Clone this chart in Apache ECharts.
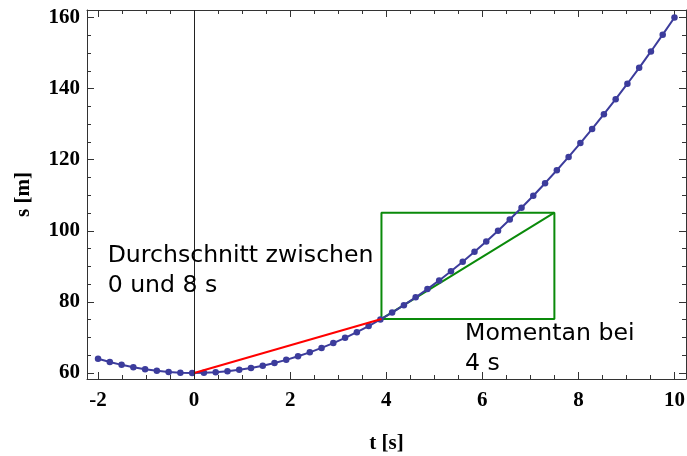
<!DOCTYPE html>
<html>
<head>
<meta charset="utf-8">
<script src="https://cdn.jsdelivr.net/npm/echarts@6/dist/echarts.min.js"></script>
<style>html,body{margin:0;padding:0;background:#fff}#c{width:687px;height:456px}</style>
</head>
<body>
<div id="c"></div>
<script>
// time samples (s)
const tValues = [-2.00,-1.755,-1.510,-1.265,-1.020,-0.776,-0.531,-0.286,-0.041,0.204,
  0.449,0.694,0.939,1.184,1.429,1.673,1.918,2.163,2.408,2.653,
  2.898,3.143,3.388,3.633,3.878,4.122,4.367,4.612,4.857,5.102,
  5.347,5.592,5.837,6.082,6.327,6.571,6.816,7.061,7.306,7.551,
  7.796,8.041,8.286,8.531,8.776,9.020,9.265,9.510,9.755,10.00];
// position (m)
const sValues = [64.00,63.08,62.28,61.60,61.04,60.60,60.28,60.08,60.00,60.04,
  60.20,60.48,60.88,61.40,62.04,62.80,63.68,64.68,65.80,67.04,
  68.40,69.88,71.48,73.20,75.04,76.99,79.07,81.27,83.59,86.03,
  88.59,91.27,94.07,96.99,100.03,103.18,106.46,109.86,113.38,117.02,
  120.78,124.66,128.66,132.78,137.02,141.36,145.84,150.44,155.16,160.00];
// average-velocity secant (red)
const secantT = [0, 3.9];
const secantS = [60, 75.2];
// tangent box (green)
const boxT = [3.9, 7.5];
const boxS = [75.2, 105.1];
// tick labels
const xTicks = [-2, 0, 2, 4, 6, 8, 10];
const yTicks = [60, 80, 100, 120, 140, 160];
const xMinorTicks = [];
for (let v = -2; v <= 10.001; v += 0.5) xMinorTicks.push(+v.toFixed(2));
const yMinorTicks = [];
for (let v = 60; v <= 160; v += 5) yMinorTicks.push(v);
// annotations
const notes = [
  {t: -1.8, s: 97.2, text: 'Durchschnitt zwischen\n0 und 8 s'},
  {t: 5.64, s: 75.3, text: 'Momentan bei\n4 s'}
];

const xMin = -2.23, xMax = 10.24, yMin = 58.3, yMax = 162.1;
const frame = '#333';
const lblStyle = {fontFamily: 'Liberation Serif', fontWeight: 'bold', fontSize: 21, color: '#000'};

function xAx(pos, vals, len, labels, line) {
  return {
    type: 'value', min: xMin, max: xMax, position: pos,
    axisLine: {show: line, onZero: false, lineStyle: {color: frame, width: 1}},
    axisTick: {show: true, inside: true, length: len, customValues: vals, lineStyle: {color: frame, width: 1}},
    axisLabel: labels ? Object.assign({show: true, customValues: vals, margin: 11}, lblStyle) : {show: false},
    splitLine: {show: false}
  };
}
function yAx(pos, vals, len, labels, line) {
  return {
    type: 'value', min: yMin, max: yMax, position: pos,
    axisLine: {show: line, onZero: false, lineStyle: {color: frame, width: 1}},
    axisTick: {show: true, inside: true, length: len, customValues: vals, lineStyle: {color: frame, width: 1}},
    axisLabel: labels ? Object.assign({show: true, customValues: vals, margin: 7}, lblStyle) : {show: false},
    splitLine: {show: false}
  };
}

const xs = [
  Object.assign(xAx('bottom', xTicks, 7, true, true), {name: 't [s]', nameLocation: 'middle', nameGap: 54, nameTextStyle: Object.assign({}, lblStyle)}),
  xAx('bottom', xMinorTicks, 4, false, false),
  xAx('top', xTicks, 7, false, true),
  xAx('top', xMinorTicks, 4, false, false)
];
const ys = [
  Object.assign(yAx('left', yTicks, 7, true, true), {name: 's [m]', nameLocation: 'middle', nameGap: 53, nameRotate: 90, nameTextStyle: Object.assign({}, lblStyle)}),
  yAx('left', yMinorTicks, 4, false, false),
  yAx('right', yTicks, 7, false, true),
  yAx('right', yMinorTicks, 4, false, false)
];

const curve = tValues.map((t, i) => [t, sValues[i]]);
const green = '#0a8a0a';
const chart = echarts.init(document.getElementById('c'), null, {renderer: 'canvas'});
chart.setOption({
  animation: false,
  grid: {left: 87, right: 1, top: 10, bottom: 77, containLabel: false, outerBoundsMode: 'none'},
  xAxis: xs,
  yAxis: ys,
  series: [
    {type: 'line', data: [[boxT[0], boxS[0]], [boxT[1], boxS[0]], [boxT[1], boxS[1]], [boxT[0], boxS[1]], [boxT[0], boxS[0]]],
      showSymbol: false, lineStyle: {color: green, width: 2}, z: 2, silent: true},
    {type: 'line', data: [[boxT[0], boxS[0]], [boxT[1], boxS[1]]],
      showSymbol: false, lineStyle: {color: green, width: 2}, z: 2, silent: true},
    {type: 'line', data: curve, symbol: 'circle', symbolSize: 6.5, showSymbol: true,
      itemStyle: {color: '#3c3c9c'}, lineStyle: {color: '#3c3c9c', width: 2}, z: 3,
      markLine: {silent: true, symbol: ['none', 'none'], label: {show: false},
        lineStyle: {color: '#222', width: 1, type: 'solid'}, data: [{xAxis: 0}]}},
    {type: 'line', data: secantT.map((t, i) => [t, secantS[i]]), showSymbol: false,
      lineStyle: {color: '#ff0000', width: 2}, z: 4, silent: true},
    {type: 'scatter', data: notes.map(n => [n.t, n.s]), symbolSize: 0, z: 5, silent: true,
      itemStyle: {color: '#000'},
      label: {show: true, position: [0, 0], align: 'left', verticalAlign: 'top',
        formatter: p => notes[p.dataIndex].text, textBorderWidth: 0, opacity: 1,
        fontFamily: 'DejaVu Sans', fontSize: 23.6, lineHeight: 30, color: '#000000'}}
  ]
});
</script>
</body>
</html>
